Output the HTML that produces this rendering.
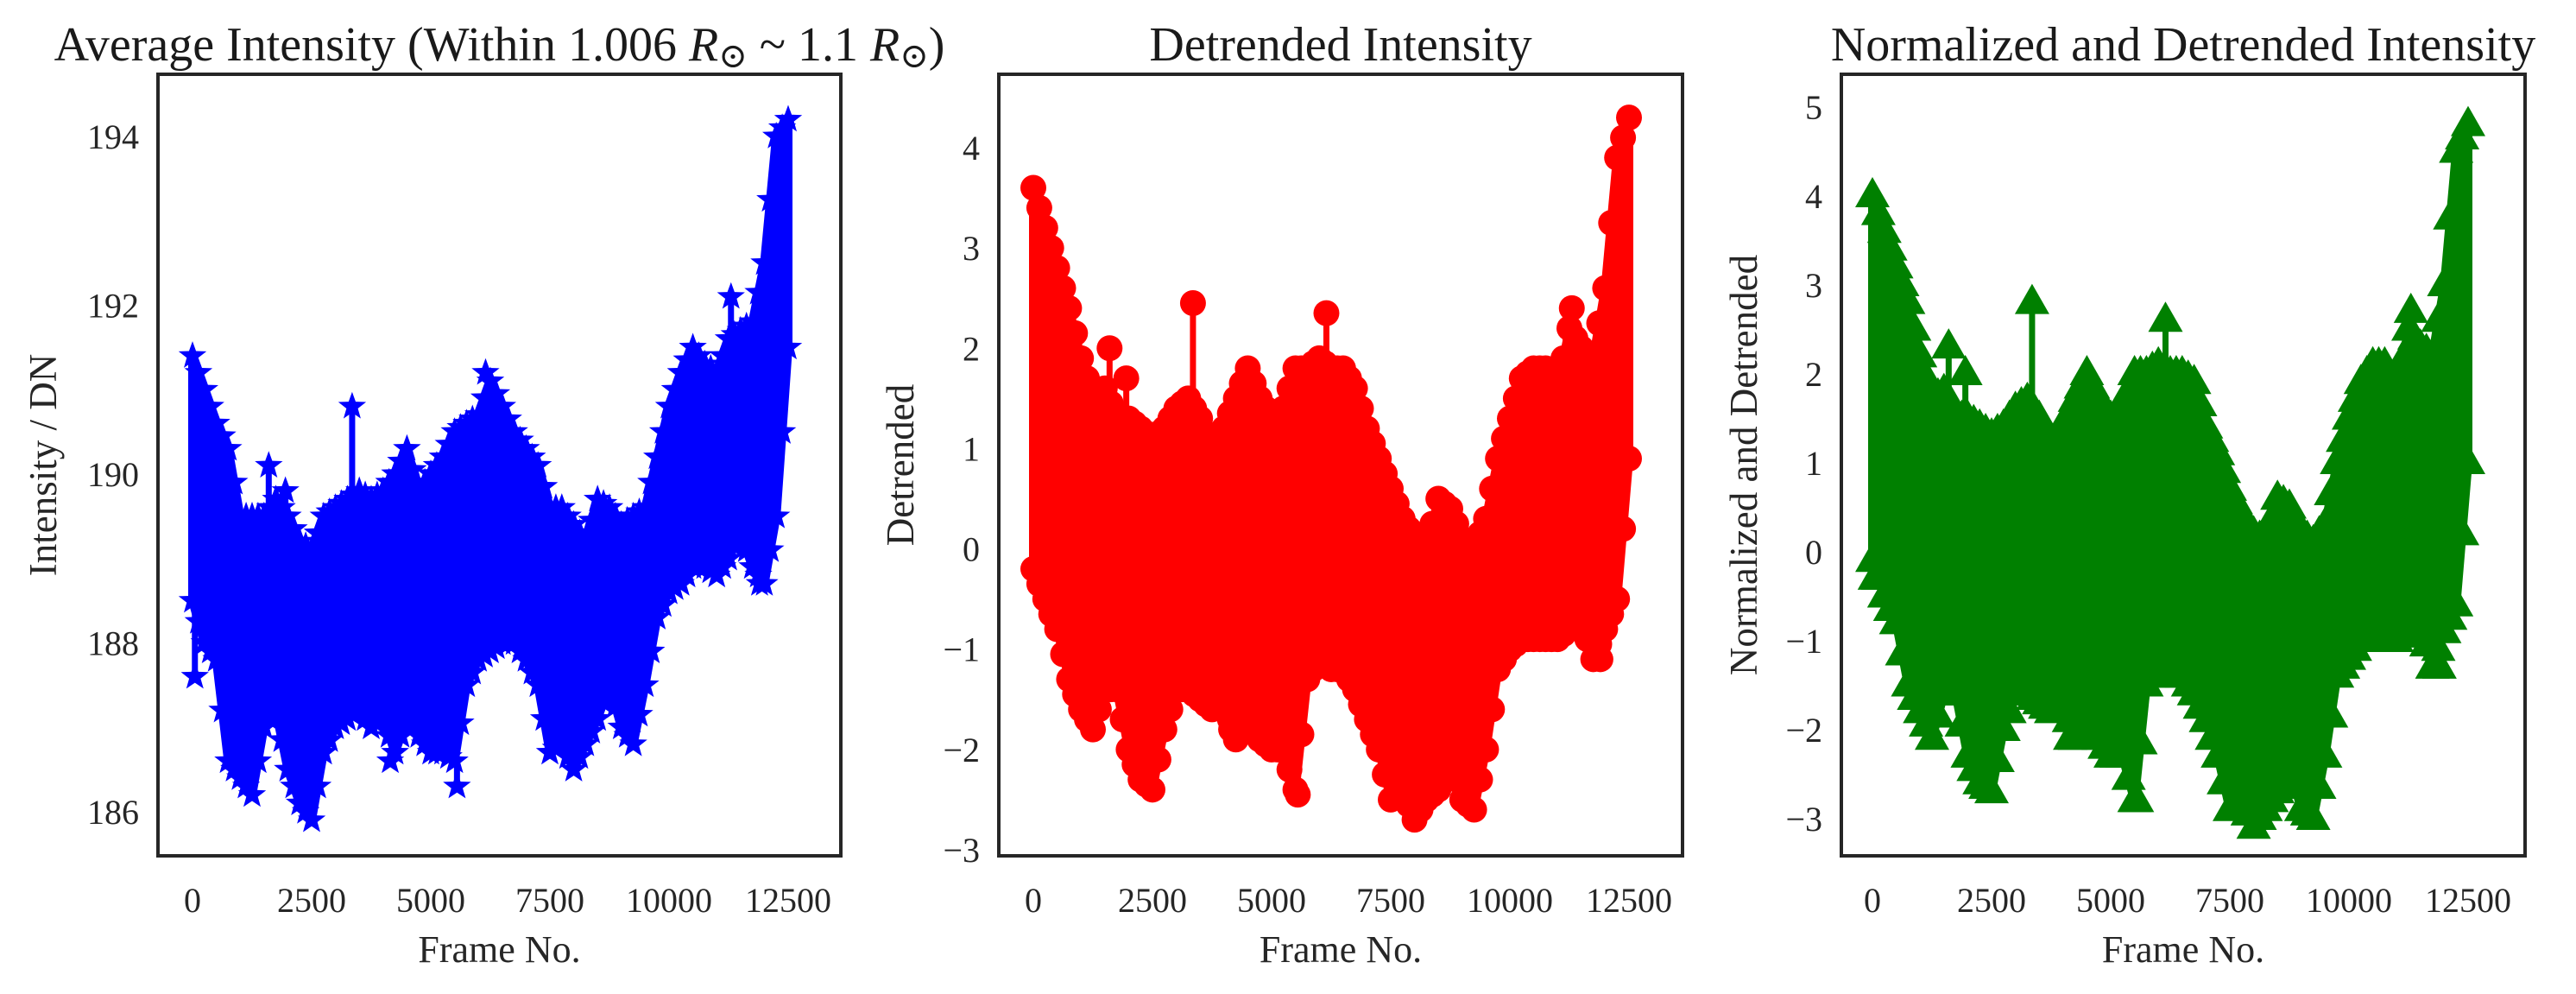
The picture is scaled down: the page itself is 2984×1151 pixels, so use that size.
<!DOCTYPE html>
<html><head><meta charset="utf-8"><style>
html,body{margin:0;padding:0;background:#fff;}
svg{display:block;font-family:"Liberation Serif","DejaVu Serif",serif;}
</style></head><body>
<svg id="fig" width="2984" height="1151" viewBox="0 0 2984 1151"></svg>
<script>
const frames=[0,250,500,750,1000,1250,1500,1750,2000,2250,2500,2750,3000,3250,3500,3750,4000,4250,4500,4750,5000,5250,5500,5750,6000,6250,6500,6750,7000,7250,7500,7750,8000,8250,8500,8750,9000,9250,9500,9750,10000,10250,10500,10750,11000,11250,11500,11750,12000,12250,12500];
const avgUpper=[191.4,191,190.6,190.3,189.5,189.5,189.5,189.7,189.5,189.2,189.1,189.5,189.6,189.7,189.8,189.7,189.8,190,190.3,189.8,190,190.2,190.5,190.6,190.7,191.1,190.8,190.5,190.3,190.1,189.6,189.6,189.4,189.2,189.7,189.6,189.4,189.5,189.6,190.2,190.8,191.2,191.5,191.3,191.2,191.6,191.7,191.8,192.5,194,194.2];
const avgLower=[188.5,188,187.8,186.6,186.4,186.2,187,187.2,186.5,186.1,185.9,186.7,187,187.1,187.2,187,187.1,186.7,187.1,186.9,186.7,186.7,186.6,187.5,187.8,187.9,188,188,187.8,187.5,186.7,186.8,186.5,186.8,187.1,187.5,187,186.8,187.5,188.3,188.6,188.7,188.9,188.9,188.8,189,189.3,188.9,188.7,189.5,191.5];
const avgSpikeX=[50,1600,1950,3350,4150,5550,6150,11300,11900];
const avgSpikeY=[187.6,190.1,189.8,190.8,186.6,186.3,191.2,192.1,188.7];
const detUpper=[3.6,3.2,2.8,2.4,1.9,1.5,1.6,1.3,1.3,1.2,1.1,1.2,1.4,1.5,1.3,1.0,1.2,1.5,1.8,1.5,1.3,1.4,1.8,1.8,1.9,1.8,1.8,1.6,1.2,0.9,0.6,0.3,0.1,0.0,0.5,0.4,0.1,0.0,0.3,0.9,1.3,1.7,1.8,1.8,1.6,2.2,2.0,1.9,2.6,3.9,4.3];
const detLower=[-0.2,-0.5,-0.8,-1.3,-1.6,-1.8,-1.4,-1.4,-2.0,-2.3,-2.4,-1.8,-1.4,-1.4,-1.5,-1.6,-1.5,-1.9,-1.7,-1.9,-2.0,-2.0,-2.4,-1.3,-1.1,-1.2,-1.2,-1.4,-1.7,-2.0,-2.5,-2.4,-2.7,-2.5,-2.4,-2.1,-2.5,-2.6,-2.0,-1.2,-1.0,-0.9,-0.9,-0.9,-0.9,-0.8,-0.7,-1.1,-0.8,-0.5,0.9];
const detSpikeX=[50,1600,1950,3350,4150,5550,6150,11300,11900];
const detSpikeY=[-0.2,2.0,1.7,2.45,-1.8,-2.45,2.35,2.4,-1.1];
const normUpper=[4.0,3.6,3.2,2.8,2.2,1.7,1.8,1.5,1.5,1.4,1.3,1.4,1.6,1.7,1.5,1.2,1.4,1.7,2.0,1.7,1.5,1.6,2.0,2.0,2.1,2.0,2.0,1.9,1.4,1.1,0.7,0.4,0.2,0.1,0.6,0.5,0.2,0.1,0.3,1.0,1.5,1.9,2.1,2.1,1.8,2.5,2.3,2.2,3.0,4.5,4.8];
const normLower=[-0.1,-0.5,-0.8,-1.5,-1.8,-2.1,-1.6,-1.6,-2.3,-2.6,-2.7,-2.0,-1.6,-1.6,-1.7,-1.8,-1.7,-2.1,-1.9,-2.1,-2.3,-2.3,-2.8,-1.5,-1.3,-1.4,-1.4,-1.6,-1.9,-2.3,-2.9,-2.8,-3.1,-2.9,-2.7,-2.4,-2.9,-3.0,-2.3,-1.4,-1.2,-1.0,-1.0,-1.0,-1.0,-0.9,-0.8,-1.3,-0.9,-0.6,1.0];
const normSpikeX=[50,1600,1950,3350,4150,5550,6150,11300,11900];
const normSpikeY=[-0.3,2.3,2.0,2.8,-2.1,-2.8,2.6,2.7,-1.3];
const xTicks=[0,2500,5000,7500,10000,12500];
const avgTicks=[186,188,190,192,194];
const detTicks=[-3,-2,-1,0,1,2,3,4];
const normTicks=[-3,-2,-1,0,1,2,3,4,5];

const NS='http://www.w3.org/2000/svg';
const svg=document.getElementById('fig');
function mk(tag,attrs,parent){const e=document.createElementNS(NS,tag);for(const k in attrs)e.setAttribute(k,attrs[k]);(parent||svg).appendChild(e);return e;}

const panels=[
 {key:'avg',L:183,R:974,T:86,B:991,x0:223,x1:913,yA:194,pA:158,yB:186,pB:940,up:avgUpper,lo:avgLower,sx:avgSpikeX,sy:avgSpikeY,ticks:avgTicks,color:'#0000ff',marker:'star',ylabel:'Intensity / DN',ylx:50,title:'avg'},
 {key:'det',L:1157,R:1949,T:86,B:991,x0:1197,x1:1887,yA:4,pA:171,yB:-3,pB:984,up:detUpper,lo:detLower,sx:detSpikeX,sy:detSpikeY,ticks:detTicks,color:'#ff0000',marker:'circle',ylabel:'Detrended',ylx:1043,title:'Detrended Intensity'},
 {key:'norm',L:2133,R:2925,T:86,B:991,x0:2169,x1:2859,yA:5,pA:124,yB:-3,pB:948,up:normUpper,lo:normLower,sx:normSpikeX,sy:normSpikeY,ticks:normTicks,color:'#008000',marker:'tri',ylabel:'Normalized and Detrended',ylx:2020,title:'Normalized and Detrended Intensity'}
];

function marker(p,x,y,g){
  let e;
  if(p.marker==='star'){
    const r=17,ri=7;let pts=[];
    for(let i=0;i<10;i++){const a=-Math.PI/2+i*Math.PI/5;const rr=i%2?ri:r;pts.push((x+rr*Math.cos(a)).toFixed(1)+','+(y+rr*Math.sin(a)).toFixed(1));}
    e=mk('polygon',{points:pts.join(' '),fill:p.color},g);
  }else if(p.marker==='circle'){
    e=mk('circle',{cx:x,cy:y,r:15,fill:p.color},g);
  }else{
    e=mk('polygon',{points:`${x},${y-22} ${x-20},${y+13} ${x+20},${y+13}`,fill:p.color},g);
  }
  
  
}

panels.forEach(p=>{
  const X=v=>p.x0+(v/12500)*(p.x1-p.x0);
  const Y=v=>p.pA+(v-p.yA)*(p.pB-p.pA)/(p.yB-p.yA);
  const g=mk('g',{});
  
  
  let pts=[];
  frames.forEach((f,i)=>pts.push(X(f).toFixed(1)+','+Y(p.up[i]).toFixed(1)));
  for(let i=frames.length-1;i>=0;i--)pts.push(X(frames[i]).toFixed(1)+','+Y(p.lo[i]).toFixed(1));
  const env=mk('polygon',{points:pts.join(' '),fill:p.color,stroke:p.color,'stroke-width':10,'stroke-linejoin':'round'},g);
  
  
  let d='';
  frames.forEach((f,i)=>{d+=(i?'L':'M')+X(f).toFixed(1)+','+Y(p.up[i]).toFixed(1)+'L'+X(f).toFixed(1)+','+Y(p.lo[i]).toFixed(1);});
  const ln=mk('path',{d:d,fill:'none',stroke:p.color,'stroke-width':4},g);
  
  
  frames.forEach((f,i)=>{marker(p,X(f),Y(p.up[i]),g);marker(p,X(f),Y(p.lo[i]),g);
    if(i<frames.length-1){const xm=X(f+125);marker(p,xm,Y((p.up[i]+p.up[i+1])/2),g);marker(p,xm,Y((p.lo[i]+p.lo[i+1])/2),g);}});
  p.sx.forEach((sx,i)=>{
    const j=Math.min(frames.length-1,Math.round(sx/250));
    const base=p.sy[i]>(p.up[j]+p.lo[j])/2?p.up[j]:p.lo[j];
    const s=mk('line',{x1:X(sx),x2:X(sx),y1:Y(base),y2:Y(p.sy[i]),stroke:p.color,'stroke-width':7},g);
    
    
    marker(p,X(sx),Y(p.sy[i]),g);
  });
  const fr=mk('rect',{x:p.L,y:p.T,width:p.R-p.L,height:p.B-p.T,fill:'none',stroke:'#262626','stroke-width':4});
  
  
  xTicks.forEach(t=>{
    const tx=mk('text',{x:X(t),y:1056,'text-anchor':'middle','font-size':40,fill:'#262626'});
    tx.textContent=String(t);
    
    
  });
  p.ticks.forEach(t=>{
    const ty=mk('text',{x:p.L-22,y:Y(t)+14,'text-anchor':'end','font-size':40,fill:'#262626'});
    ty.textContent=t<0?'\u2212'+Math.abs(t):String(t);
    
    
  });
  const xl=mk('text',{x:(p.L+p.R)/2,y:1114,'text-anchor':'middle','font-size':44,fill:'#262626'});
  xl.textContent='Frame No.';
  
  
  const cy=(p.T+p.B)/2;
  const yl=mk('text',{x:p.ylx,y:cy,'text-anchor':'middle','font-size':45,fill:'#262626',transform:`rotate(-90 ${p.ylx} ${cy})`,'dominant-baseline':'central'});
  yl.textContent=p.ylabel;
  
  
  const tt=mk('text',{x:(p.L+p.R)/2,y:70,'text-anchor':'middle','font-size':56,fill:'#1a1a1a'});
  if(p.title==='avg'){
    tt.innerHTML='Average Intensity (Within 1.006 <tspan font-style="italic">R</tspan><tspan font-size="40" dy="8">\u2299</tspan><tspan dy="-8"> ~ 1.1 </tspan><tspan font-style="italic">R</tspan><tspan font-size="40" dy="8">\u2299</tspan><tspan dy="-8">)</tspan>';
  }else tt.textContent=p.title;
  
  
});
</script>
</body></html>
